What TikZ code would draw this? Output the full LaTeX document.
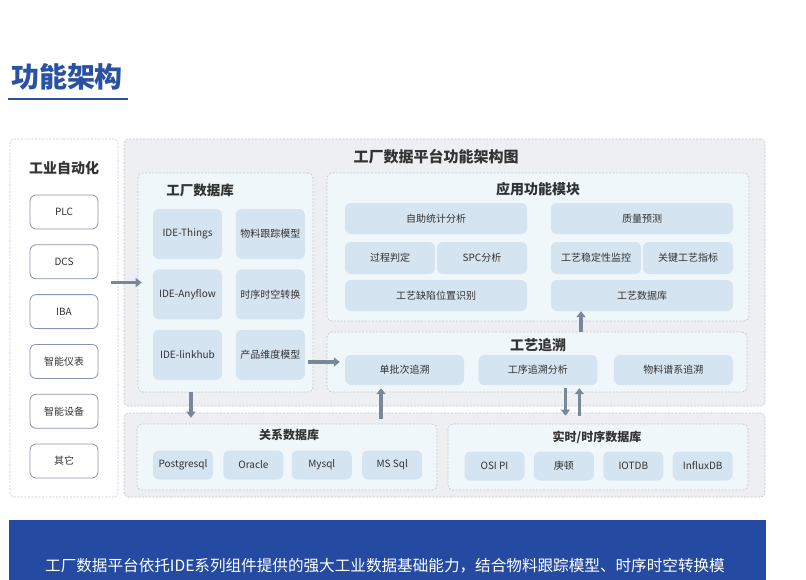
\documentclass[tikz,border=0pt]{standalone}
\usepackage{fontspec}
\setmainfont{Noto Sans CJK SC}
\usepackage{tikz}
\usetikzlibrary{positioning,arrows.meta}

\definecolor{titleblue}{HTML}{2A52A0}
\definecolor{bandblue}{HTML}{244BA1}
\definecolor{panelgray}{HTML}{EEEFF3}
\definecolor{dashgray}{HTML}{C4C7CE}
\definecolor{groupblue}{HTML}{F0F7FB}
\definecolor{itemblue}{HTML}{D5E4F1}
\definecolor{edgeviolet}{HTML}{8C92B6}
\definecolor{arrowgray}{HTML}{7A8798}
\definecolor{textgray}{HTML}{333333}

\tikzset{
  panel/.style={draw=dashgray, dash pattern=on 2pt off 1.5pt, line width=0.6pt,
    fill=panelgray, rounded corners=4pt},
  group/.style={draw=dashgray, dash pattern=on 2pt off 1.5pt, line width=0.6pt,
    fill=groupblue, rounded corners=5pt},
  item/.style={fill=itemblue, rounded corners=6pt, inner sep=0pt,
    text=textgray, font=\fontsize{10}{12}\selectfont},
  device/.style={draw=edgeviolet, line width=0.8pt, fill=white, rounded corners=6pt,
    minimum width=68pt, minimum height=34pt, text=textgray, font=\fontsize{10}{12}\selectfont},
  heading/.style={text=textgray, font=\fontsize{#1}{#1}\selectfont\bfseries},
  flow/.style={line width=3.2pt, draw=arrowgray, -{Triangle[length=6pt,width=9pt]}},
}

\begin{document}
\begin{tikzpicture}[x=1pt,y=-1pt]
\useasboundingbox (0,0) rectangle (806,579);

% page title
\node[text=titleblue, font=\fontsize{28}{28}\selectfont\bfseries] (pagetitle) at (67,77) {功能架构};
\draw[titleblue, line width=2pt] (8,99) -- (128,99);

% left column
\node[draw=dashgray, dash pattern=on 2pt off 1.5pt, line width=0.6pt,
    fill=white,
    rounded corners=4pt,
    minimum width=108pt,
    minimum height=358pt
] (automation) at (64,318) {};
\node[heading=14] (automationT) at (64,168) {工业自动化};

\node[device] (plc) at (64,212) {PLC};
\node[device, below=15pt of plc] (dcs) {DCS};
\node[device, below=15pt of dcs] (iba) {IBA};
\node[device, below=15pt of iba] (meter) {智能仪表};
\node[device, below=15pt of meter] (smartdev) {智能设备};
\node[device, below=15pt of smartdev] (others) {其它};

% platform panels
\node[panel,
    minimum width=641pt,
    minimum height=267pt
] (platform) at (444.5,272.5) {};
\node[panel,
    minimum width=641pt,
    minimum height=84pt
] (storage) at (444.5,455) {};
\node[heading=15] (platformT) at (436,157) {工厂数据平台功能架构图};

% factory database
\node[group,
    minimum width=175pt,
    minimum height=219pt
] (factorydb) at (225.5,282.5) {};
\node[heading=13.5] (factorydbT) at (200,190) {工厂数据库};

\node[item, minimum width=69pt, minimum height=50pt] (things) at (187.5,234) {IDE-Things};
\node[item, minimum width=69pt, minimum height=50pt, below=10pt of things] (anyflow) {IDE-Anyflow};
\node[item, minimum width=69pt, minimum height=50pt, below=10pt of anyflow] (linkhub) {IDE-linkhub};
\node[item, minimum width=69pt, minimum height=50pt, right=13.5pt of things] (tracking) {物料跟踪模型};
\node[item, minimum width=69pt, minimum height=50pt, right=13.5pt of anyflow] (spacetime) {时序时空转换};
\node[item, minimum width=69pt, minimum height=50pt, right=13.5pt of linkhub] (dimension) {产品维度模型};

% application modules
\node[group,
    minimum width=422pt,
    minimum height=148pt
] (appmod) at (538,247) {};
\node[heading=14] (appmodT) at (538,189) {应用功能模块};

\node[item, minimum width=182pt, minimum height=31pt] (selfstat) at (436,218.5) {自助统计分析};
\node[item, minimum width=182pt, minimum height=31pt] (quality) at (642,218.5) {质量预测};
\node[item, minimum width=90pt, minimum height=32pt] (judge) at (390,258) {过程判定};
\node[item, minimum width=90pt, minimum height=32pt] (spc) at (482,258) {SPC分析};
\node[item, minimum width=90pt, minimum height=32pt] (stability) at (596,258) {工艺稳定性监控};
\node[item, minimum width=90pt, minimum height=32pt] (keyindex) at (688,258) {关键工艺指标};
\node[item, minimum width=182pt, minimum height=31pt] (defect) at (436,295.5) {工艺缺陷位置识别};
\node[item, minimum width=182pt, minimum height=31pt] (craftdb) at (642,295.5) {工艺数据库};

% traceability
\node[group,
    minimum width=420pt,
    minimum height=60pt
] (trace) at (537,362) {};
\node[heading=14] (traceT) at (538,345) {工艺追溯};

\node[item, minimum width=119pt, minimum height=30pt] (batch) at (404.5,370) {单批次追溯};
\node[item, minimum width=119pt, minimum height=30pt, right=14pt of batch] (process) {工序追溯分析};
\node[item, minimum width=119pt, minimum height=30pt, right=16pt of process] (genealogy) {物料谱系追溯};

% relational databases
\node[group,
    minimum width=300pt,
    minimum height=66pt
] (reldb) at (287,457) {};
\node[heading=12] (reldbT) at (289,435) {关系数据库};

\node[item, minimum width=60pt, minimum height=29pt] (postgres) at (183,465) {Postgresql};
\node[item, minimum width=60pt, minimum height=29pt, right=10pt of postgres] (oracle) {Oracle};
\node[item, minimum width=60pt, minimum height=29pt, right=8pt of oracle] (mysql) {Mysql};
\node[item, minimum width=60pt, minimum height=29pt, right=10pt of mysql] (mssql) {MS Sql};

% time series databases
\node[group,
    minimum width=300pt,
    minimum height=66pt
] (tsdb) at (598,457) {};
\node[heading=12] (tsdbT) at (597,437) {实时/时序数据库};

\node[item, minimum width=60pt, minimum height=29pt] (osipi) at (494.5,466) {OSI PI};
\node[item, minimum width=60pt, minimum height=29pt, right=9pt of osipi] (gengdun) {庚顿};
\node[item, minimum width=60pt, minimum height=29pt, right=9pt of gengdun] (iotdb) {IOTDB};
\node[item, minimum width=60pt, minimum height=29pt, right=9pt of iotdb] (influx) {InfluxDB};

% connectors
\draw[flow] ([xshift=-7pt]automation.east |- factorydb.west) -- ([xshift=4pt]factorydb.west);
\draw[flow] ([xshift=-5pt,yshift=8pt]factorydb.east |- batch.west) -- ([xshift=-5pt,yshift=8pt]batch.west);
\draw[flow] ([xshift=-34.5pt]factorydb.south) -- ([xshift=-34.5pt,yshift=6pt]factorydb.south |- reldb.north);
\draw[flow] ([xshift=94pt,yshift=5pt]reldb.north) -- ([xshift=94pt,yshift=-3pt]reldb.north |- batch.south);
\draw[flow] ([xshift=27.5pt,yshift=-3pt]process.south) -- ([xshift=27.5pt,yshift=8pt]process.south |- tsdb.north);
\draw[flow] ([xshift=41.5pt,yshift=8pt]process.south |- tsdb.north) -- ([xshift=41.5pt,yshift=-3pt]process.south);
\draw[flow] ([xshift=-61pt]craftdb.south |- trace.north) -- ([xshift=-61pt]craftdb.south);

% bottom band
\node[fill=bandblue,
    minimum width=757pt,
    minimum height=92pt,
    text=white,
    font=\fontsize{15.6}{16}\selectfont
] (band) at (387.5,566) {\hspace*{-5pt}工厂数据平台依托IDE系列组件提供的强大工业数据基础能力，结合物料跟踪模型、时序时空转换模};

\end{tikzpicture}
\end{document}
